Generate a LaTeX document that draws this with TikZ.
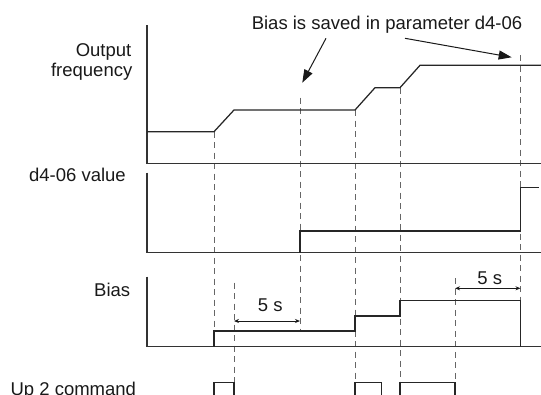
\documentclass[tikz,border=0pt]{standalone}
\usepackage{fontspec}
\setmainfont{Liberation Sans}
\usetikzlibrary{arrows.meta}

\begin{document}
\begin{tikzpicture}[
    x=1pt, y=-1pt,
    % Define styles
    axisline/.style={
        draw=black!80,
        line width=1.1pt
    },
    wave/.style={
        draw=black!85,
        line width=1.25pt
    },
    guide/.style={
        draw=black!60,
        line width=0.9pt,
        dash pattern=on 6pt off 4.5pt
    },
    sigtext/.style={
        font=\fontsize{18.5}{21}\selectfont,
        text=black!90,
        inner sep=0pt
    },
    pointer/.style={
        -{Triangle[length=13pt, width=9pt]},
        line width=1pt,
        black!90
    },
    timespan/.style={
        {Stealth[length=5pt, width=4pt]}-{Stealth[length=5pt, width=4pt]},
        line width=0.9pt,
        black!90
    }
]
\useasboundingbox (0,0) rectangle (541,394);
\clip (0,0) rectangle (541,394);

% ============================================================
% Time markers (dashed)
% ============================================================
\draw[guide] (214,131.7) -- (214,331);
\draw[guide] (234,282.7) -- (234,382.3);
\draw[guide] (300,97.7) -- (300,331);
\draw[guide] (355,110) -- (355,382.3);
\draw[guide] (400,87.7) -- (400,382.3);
\draw[guide] (455,278.3) -- (455,382.3);
\draw[guide] (520.5,55) -- (520.5,300.7);

% ============================================================
% Output frequency
% ============================================================
\node[sigtext, anchor=base east] (outlbl) at (131.5,56) {Output};
\node[sigtext, anchor=base east] (freqlbl) at (132.5,76) {frequency};

\draw[axisline] (147,25) -- (147,163.3) -- (541,163.3);
\draw[wave] (147,131.7) -- (214,131.7) -- (234,110) -- (355,110)
    -- (375,87.7) -- (400,87.7) -- (420,65.3) -- (541,65.3);

% ============================================================
% d4-06 value
% ============================================================
\node[sigtext, anchor=base east] (d4lbl) at (126,181.7) {d4-06 value};

\draw[axisline] (147,172.7) -- (147,252.8) -- (541,252.8);
\draw[wave] (300,252.8) -- (300,231) -- (520.5,231) -- (520.5,187.3) -- (539,187.3);

% ============================================================
% Bias
% ============================================================
\node[sigtext, anchor=base east] (biaslbl) at (130.4,296) {Bias};

\draw[axisline] (147,276.7) -- (147,346.7) -- (541,346.7);
\draw[wave] (214,346.7) -- (214,331) -- (355,331) -- (355,316)
    -- (400,316) -- (400,300.7) -- (520.5,300.7) -- (520.5,346.7);

% 5 s delays
\coordinate (spanAa) at (234,321);
\coordinate (spanAb) at (300,321);
\coordinate (spanBa) at (455,288.3);
\coordinate (spanBb) at (520.5,288.3);
\draw[timespan] (spanAa) -- (spanAb);
\draw[timespan] (spanBa) -- (spanBb);
\node[sigtext, anchor=base] (delayA) at (270.2,311.7) {5 s};
\node[sigtext, anchor=base] (delayB) at (489.8,284.5) {5 s};

% ============================================================
% Up 2 command
% ============================================================
\node[sigtext, anchor=base west] (uplbl) at (10.4,395) {Up 2 command};

\draw[wave] (214,396) -- (214,382.3) -- (234,382.3) -- (234,396);
\draw[wave] (355,396) -- (355,382.3) -- (381.3,382.3) -- (381.3,396);
\draw[wave] (400,396) -- (400,382.3) -- (455,382.3) -- (455,396);

% ============================================================
% Annotation
% ============================================================
\node[sigtext, anchor=base] (saved) at (387,29.3) {Bias is saved in parameter d4-06};
\coordinate (tailA) at (326,38.3);
\coordinate (tipA) at (302.3,82.7);
\coordinate (tailB) at (405,38.3);
\coordinate (tipB) at (511.7,57.3);
\draw[pointer] (tailA) -- (tipA);
\draw[pointer] (tailB) -- (tipB);

\end{tikzpicture}
\end{document}
